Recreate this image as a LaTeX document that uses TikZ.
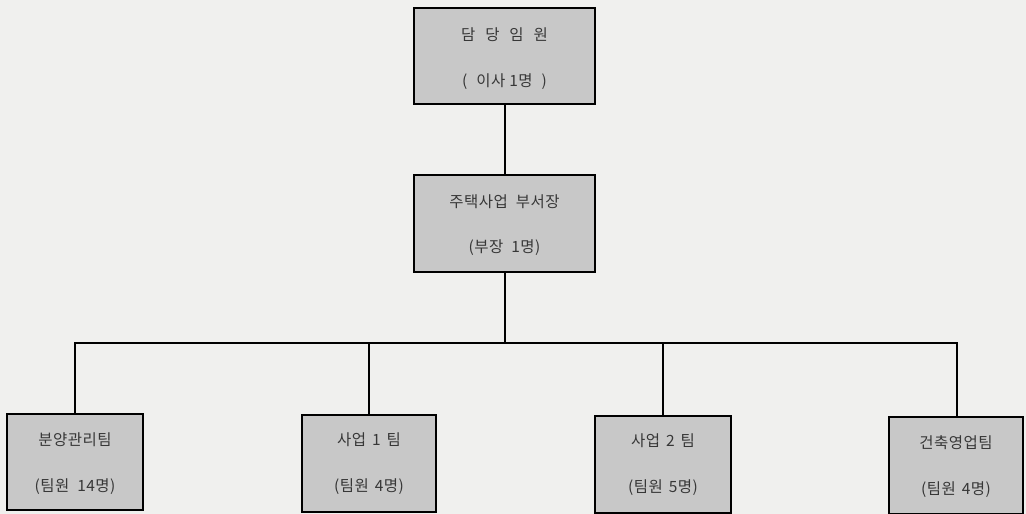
\documentclass[tikz,border=0pt]{standalone}
\usepackage{fontspec}
\newfontfamily\kr[LetterSpace=3]{Noto Sans CJK KR}
\definecolor{boxfill}{RGB}{200,200,200}
\definecolor{bg}{RGB}{240,240,238}
\definecolor{txt}{RGB}{55,55,55}
\begin{document}
\begin{tikzpicture}[x=1pt,y=-1pt,
  orgbox/.style={draw=black,line width=1.6pt,fill=boxfill,inner sep=0pt},
  lbl/.style={text=txt,font=\kr\fontsize{15.5}{17}\selectfont,inner sep=0pt},
  conn/.style={draw=black,line width=1.4pt}]
\fill[bg] (0,0) rectangle (1026,514);
\useasboundingbox (0,0) rectangle (1026,514);
% boxes
\path[orgbox] (414,8) rectangle (595,104);
\node[lbl] (t1) at (504.5,35) {담\hspace{6pt} 당\hspace{6pt} 임\hspace{6pt} 원};
\node[lbl] (t2) at (504.5,82) {(\hspace{5pt} 이사 1명\hspace{5pt} )};
\coordinate (topB) at (505,104);
\path[orgbox] (414,175) rectangle (595,272);
\node[lbl] (m1) at (504.5,202) {주택사업\hspace{4pt} 부서장};
\node[lbl] (m2) at (504.5,248) {(부장\hspace{4pt} 1명)};
\coordinate (midT) at (505,175);
\coordinate (midB) at (505,272);
\coordinate (hub) at (505,343);
\path[orgbox] (7,414) rectangle (143,510);
\node[lbl] (a1) at (75,440) {분양관리팀};
\node[lbl] (a2) at (75,487) {(팀원\hspace{4pt} 14명)};
\coordinate (aT) at (75,414);
\path[orgbox] (302,415) rectangle (436,512);
\node[lbl] (b1) at (369,440) {사업\hspace{2pt} 1\hspace{2pt} 팀};
\node[lbl] (b2) at (369,487) {(팀원\hspace{2pt} 4명)};
\coordinate (bT) at (369,415);
\path[orgbox] (595,416) rectangle (731,513);
\node[lbl] (c1) at (663,441) {사업\hspace{2pt} 2\hspace{2pt} 팀};
\node[lbl] (c2) at (663,488) {(팀원\hspace{2pt} 5명)};
\coordinate (cT) at (663,416);
\path[orgbox] (889,417) rectangle (1023,514);
\node[lbl] (d1) at (956,443) {건축영업팀};
\node[lbl] (d2) at (956,490) {(팀원\hspace{2pt} 4명)};
\coordinate (dT) at (957,417);
% connectors
\draw[conn] (topB) -- (midT);
\draw[conn] (midB) -- (hub);
\draw[conn] (aT) -- (75,343) -- (957,343) -- (dT);
\draw[conn] (bT) -- (369,343);
\draw[conn] (cT) -- (663,343);
\end{tikzpicture}
\end{document}
